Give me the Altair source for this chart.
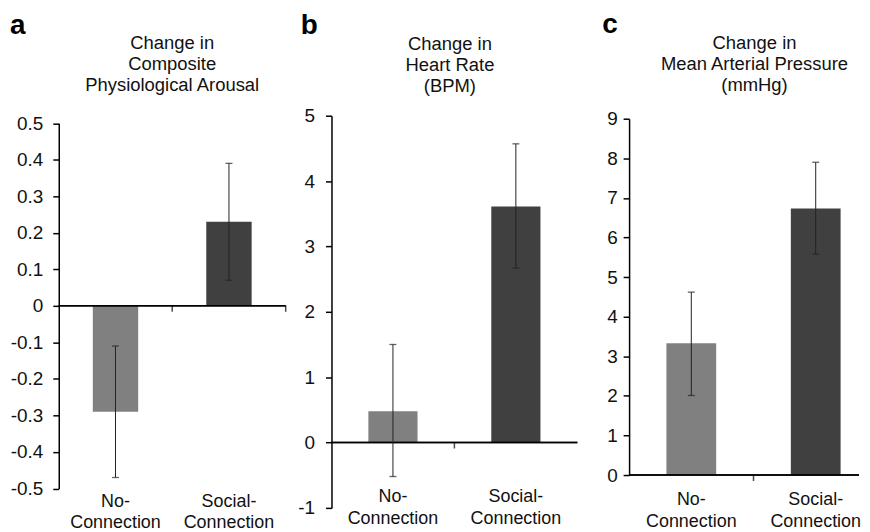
import altair as alt
import pandas as pd

FONT = "Liberation Sans"

groups = ["No-Connection", "Social-Connection"]
group_labels = ["No-\nConnection", "Social-\nConnection"]
bar_colors = ["#808080", "#404040"]

panel_letters = ["a", "b", "c"]
panel_titles = [
    "Change in\nComposite\nPhysiological Arousal",
    "Change in\nHeart Rate\n(BPM)",
    "Change in\nMean Arterial Pressure\n(mmHg)",
]

arousal_mean = [-0.29, 0.23]
arousal_low = [-0.47, 0.07]
arousal_high = [-0.11, 0.39]
arousal_ticks = [-0.5, -0.4, -0.3, -0.2, -0.1, 0, 0.1, 0.2, 0.3, 0.4, 0.5]

hr_mean = [0.48, 3.61]
hr_low = [-0.52, 2.67]
hr_high = [1.50, 4.57]
hr_ticks = [-1, 0, 1, 2, 3, 4, 5]

map_mean = [3.33, 6.73]
map_low = [2.01, 5.58]
map_high = [4.62, 7.90]
map_ticks = [0, 1, 2, 3, 4, 5, 6, 7, 8, 9]

VIEW_H = 516

layouts = [
    dict(view_w=282, axis_x=51, plot_w=228, y_top=114.5, y_bot=481.5, pad=10,
         letter=(2, 24.5), title=(165, 39.7), xlab_y=499.7, rule_end=279, end_tick=True, fmt=".1f"),
    dict(view_w=290, axis_x=43, plot_w=247, y_top=107, y_bot=501, pad=11,
         letter=(12, 25), title=(162, 41.3), xlab_y=494.7, rule_end=290, end_tick=False, fmt="d"),
    dict(view_w=282, axis_x=51, plot_w=250, y_top=110, y_bot=468, pad=6,
         letter=(24, 23.5), title=(177, 39.7), xlab_y=498, rule_end=282, end_tick=False, fmt="d"),
]


def panel(letter, title, mean, low, high, ticks, L):
    df = pd.DataFrame({"group": groups, "label": group_labels,
                       "mean": mean, "low": low, "high": high})
    base = alt.Chart(df)
    xs = alt.Scale(domain=groups, range=[L["axis_x"], L["axis_x"] + L["plot_w"]],
                   paddingInner=0.6, paddingOuter=0.3)
    x = alt.X("group:N", scale=xs, axis=None)
    ys = alt.Scale(domain=[ticks[0], ticks[-1]], range=[L["y_bot"], L["y_top"]],
                   nice=False, zero=False)
    label_expr = ("datum.value == 0 ? '0' : (datum.value < 0 ? '-' : '') + "
                  "format(abs(datum.value), '%s')" % L["fmt"])
    yaxis = alt.Axis(values=ticks, offset=-L["axis_x"], title=None, grid=False,
                     domainColor="#000", domainWidth=1.5, tickColor="#000",
                     tickWidth=1.5, tickSize=6, labelFont=FONT, labelFontSize=19,
                     labelColor="#111", labelPadding=L["pad"], labelExpr=label_expr)

    bars = base.mark_bar().encode(
        x=x,
        y=alt.Y("mean:Q", scale=ys, axis=yaxis),
        y2=alt.datum(0),
        color=alt.Color("group:N", scale=alt.Scale(domain=groups, range=bar_colors), legend=None),
    )
    zero = base.mark_rule(color="#000", strokeWidth=1.5).encode(
        x=alt.value(L["axis_x"]), x2=alt.value(L["rule_end"]), y=alt.datum(0)
    )
    tick_xs = [L["axis_x"] + L["plot_w"] / 2]
    if L["end_tick"]:
        tick_xs.append(L["rule_end"])
    tick_layers = [
        alt.Chart(pd.DataFrame({"k": [0]})).mark_tick(
            orient="vertical", size=6, thickness=1.5, color="#000", yOffset=3
        ).encode(x=alt.value(tx), y=alt.datum(0))
        for tx in tick_xs
    ]
    err = base.mark_rule(color="#222", strokeWidth=1).encode(
        x=x, y=alt.Y("low:Q"), y2="high:Q"
    )
    cap_lo = base.mark_tick(orient="horizontal", size=7, thickness=1.3, color="#222").encode(
        x=x, y="low:Q"
    )
    cap_hi = base.mark_tick(orient="horizontal", size=7, thickness=1.3, color="#222").encode(
        x=x, y="high:Q"
    )
    xlabels = base.mark_text(font=FONT, fontSize=18, color="#111", lineBreak="\n",
                             lineHeight=22, align="center", baseline="alphabetic").encode(
        x=x, y=alt.value(L["xlab_y"]), text="label:N"
    )
    tdf = pd.DataFrame({"t": [title]})
    title_mark = alt.Chart(tdf).mark_text(font=FONT, fontSize=18.5, color="#111", lineBreak="\n",
                                          lineHeight=21, align="center",
                                          baseline="alphabetic").encode(
        x=alt.value(L["title"][0]), y=alt.value(L["title"][1]), text="t:N"
    )
    ldf = pd.DataFrame({"t": [letter]})
    letter_mark = alt.Chart(ldf).mark_text(font=FONT, fontSize=28, fontWeight="bold",
                                           color="#000", align="left",
                                           baseline="alphabetic").encode(
        x=alt.value(L["letter"][0]), y=alt.value(L["letter"][1]), text="t:N"
    )
    return alt.layer(bars, zero, *tick_layers, err, cap_lo, cap_hi, xlabels,
                     title_mark, letter_mark).properties(width=L["view_w"], height=VIEW_H)


pa = panel(panel_letters[0], panel_titles[0], arousal_mean, arousal_low, arousal_high,
           arousal_ticks, layouts[0])
pb = panel(panel_letters[1], panel_titles[1], hr_mean, hr_low, hr_high, hr_ticks, layouts[1])
pc = panel(panel_letters[2], panel_titles[2], map_mean, map_low, map_high, map_ticks, layouts[2])

chart = alt.hconcat(pa, pb, pc, spacing=0).properties(
    padding=0, background="white"
).configure_view(stroke=None)

chart.save("out.html", embed_options={"renderer": "svg", "actions": False})
